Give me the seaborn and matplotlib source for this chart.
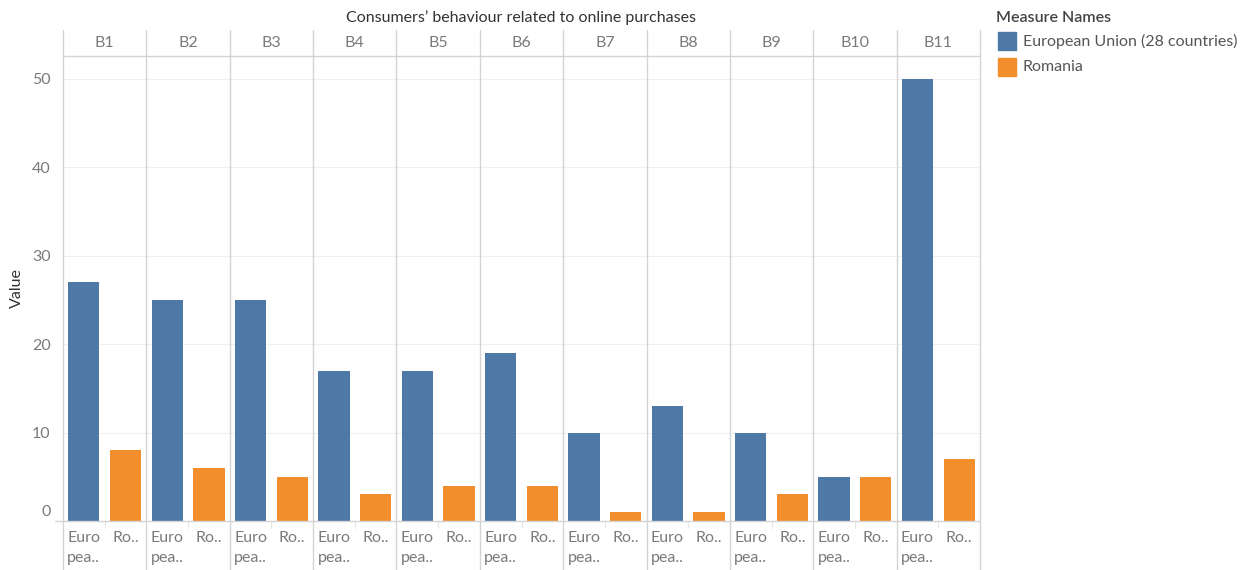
import matplotlib
matplotlib.use("Agg")
import matplotlib.pyplot as plt
from matplotlib.lines import Line2D
from matplotlib.patches import Rectangle
import matplotlib.transforms as mtransforms
import seaborn as sns
import pandas as pd

categories = ["B1", "B2", "B3", "B4", "B5", "B6", "B7", "B8", "B9", "B10", "B11"]
eu_values = [27, 25, 25, 17, 17, 19, 10, 13, 10, 5, 50]
ro_values = [8, 6, 5, 3, 4, 4, 1, 1, 3, 5, 7]
series_names = ["European Union (28 countries)", "Romania"]
short_labels = ["Euro\npea..", "Ro.."]
colors = ["#4e79a7", "#f28e2b"]
yticks = [0, 10, 20, 30, 40, 50]

sns.set_theme(style="white")
plt.rcParams["font.family"] = ["Lato", "DejaVu Sans"]

W, H = 1252, 570
fig = plt.figure(figsize=(W / 100, H / 100), dpi=100)

def fx(x):
    return x / W

def fy(y):
    return 1 - y / H

left, right = 63, 980
top, base = 56, 521
pw = (right - left) / len(categories)
ymax = (base - top) / 8.84
grid_c = "#d4d4d4"
txt_c = "#7a7a7a"
fs = 11.5

for i, cat in enumerate(categories):
    ax = fig.add_axes([fx(left + i * pw), fy(base), fx(pw), (base - top) / H])
    df = pd.DataFrame({"series": short_labels, "value": [eu_values[i], ro_values[i]]})
    sns.barplot(data=df, x="series", y="value", hue="series", palette=colors,
                width=0.75, ax=ax, legend=False, saturation=1, linewidth=0)
    ax.set_xlim(-0.5, 1.5)
    ax.set_ylim(0, ymax)
    ax.set_yticks(yticks)
    ax.grid(axis="y", color="#efefef", linewidth=0.8)
    ax.set_axisbelow(True)
    for s in ax.spines.values():
        s.set_visible(False)
    ax.set_xlabel("")
    ax.set_ylabel("")
    ax.tick_params(axis="x", length=0, pad=7, labelsize=fs, labelcolor=txt_c)
    for lab in ax.get_xticklabels():
        lab.set_multialignment("left")
        lab.set_verticalalignment("top")
        lab.set_linespacing(1.55)
    if i == 0:
        ax.tick_params(axis="y", length=0, pad=9, labelsize=fs, labelcolor=txt_c)
        ylabs = ax.get_yticklabels()
        ylabs[0].set_transform(ylabs[0].get_transform() +
                               mtransforms.ScaledTranslation(0, 10 / 100, fig.dpi_scale_trans))
    else:
        ax.set_yticklabels([])
        ax.tick_params(axis="y", length=0)
    fig.text(fx(left + i * pw + pw / 2), fy(43), cat, ha="center", va="center",
             fontsize=fs, color=txt_c)
    fig.add_artist(Line2D([fx(left + i * pw + pw / 2)] * 2, [fy(base), fy(528)],
                          color="#e6e6e6", linewidth=0.8))

fig.text(fx(17), fy(288), "Value", rotation=90, ha="center", va="center",
         fontsize=fs, color="#333333")

for i in range(len(categories) + 1):
    x = fx(left + i * pw)
    fig.add_artist(Line2D([x, x], [fy(30), fy(H)], color=grid_c, linewidth=1))
fig.add_artist(Line2D([fx(left), fx(right)], [fy(top), fy(top)], color=grid_c, linewidth=1))
fig.add_artist(Line2D([fx(55), fx(right)], [fy(base), fy(base)], color=grid_c, linewidth=1))

fig.text(fx(521), fy(18), "Consumers\u2019 behaviour related to online purchases",
         ha="center", va="center", fontsize=fs, color="#333333")

fig.text(fx(996), fy(18), "Measure Names", ha="left", va="center",
         fontsize=fs, color="#444444", fontweight="semibold")
for j, (name, c) in enumerate(zip(series_names, colors)):
    yc = 41 + j * 26
    fig.add_artist(Rectangle((fx(998), fy(yc + 9)), fx(18), 18 / H, color=c,
                             transform=fig.transFigure))
    fig.text(fx(1023), fy(yc), name, ha="left", va="center", fontsize=fs, color="#555555")

fig.savefig("out.png", dpi=100)
